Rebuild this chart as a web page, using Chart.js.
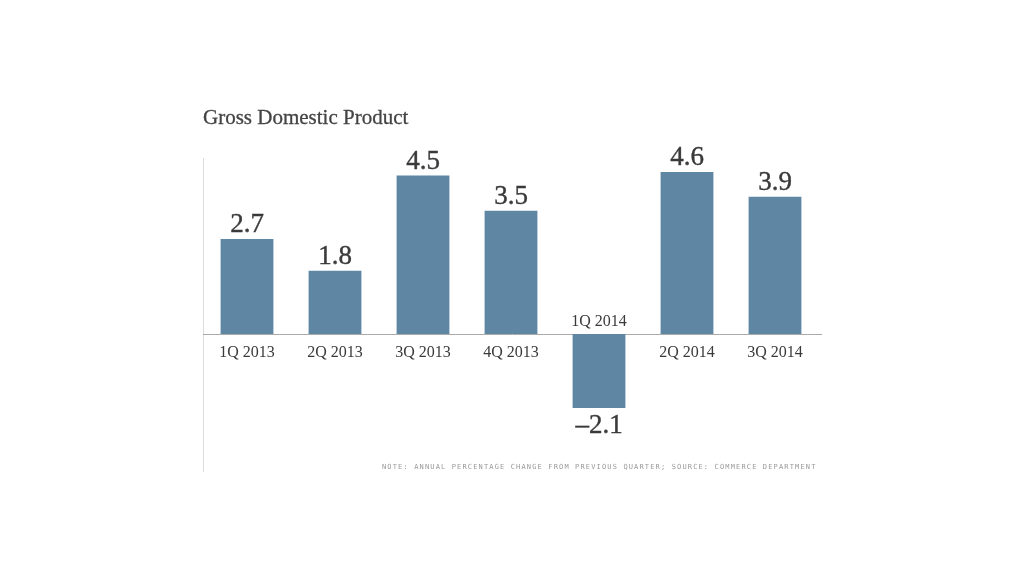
<!DOCTYPE html>
<html>
<head>
<meta charset="utf-8">
<script src="https://cdn.jsdelivr.net/npm/chart.js@4/dist/chart.umd.min.js"></script>
<style>
  html, body { margin: 0; padding: 0; background: #fff; }
  #wrap { position: relative; width: 1024px; height: 576px; }
  #title {
    position: absolute; left: 203px; top: 105px;
    font-family: "Liberation Serif", serif; font-size: 21px; color: #444;
    -webkit-text-stroke: 0.3px #444;
  }
  #note {
    position: absolute; left: 382px; top: 463px;
    font-family: "DejaVu Sans Mono", monospace; font-size: 7px; color: #999;
    letter-spacing: 1.15px;
  }
</style>
</head>
<body>
<div id="wrap">
  <canvas id="gdpChart" width="1024" height="576"></canvas>
  <div id="title">Gross Domestic Product</div>
  <div id="note">NOTE: ANNUAL PERCENTAGE CHANGE FROM PREVIOUS QUARTER; SOURCE: COMMERCE DEPARTMENT</div>
</div>
<script>
const quarters = ['1Q 2013', '2Q 2013', '3Q 2013', '4Q 2013', '1Q 2014', '2Q 2014', '3Q 2014'];
const gdpGrowth = [2.7, 1.8, 4.5, 3.5, -2.1, 4.6, 3.9];

const barColor = '#5f86a3';

// zero line, left rule, value labels and category labels
const labelPlugin = {
    id: 'labels',
    beforeDatasetsDraw(chart) {
        const { ctx, chartArea, scales } = chart;
        const y0 = Math.round(scales.y.getPixelForValue(0)) + 0.5;
        ctx.save();
        ctx.strokeStyle = '#dcdcdc';
        ctx.lineWidth = 1;
        ctx.beginPath();
        ctx.moveTo(chartArea.left + 0.5, chartArea.top);
        ctx.lineTo(chartArea.left + 0.5, chartArea.bottom);
        ctx.stroke();
        ctx.strokeStyle = '#aaaaaa';
        ctx.beginPath();
        ctx.moveTo(chartArea.left, y0);
        ctx.lineTo(chartArea.right + 3, y0);
        ctx.stroke();
        ctx.restore();
    },
    afterDatasetsDraw(chart) {
        const { ctx, scales } = chart;
        const y0 = scales.y.getPixelForValue(0);
        ctx.save();
        ctx.textAlign = 'center';
        ctx.textBaseline = 'alphabetic';
        ctx.fillStyle = '#3a3a3a';
        ctx.strokeStyle = '#3a3a3a';
        ctx.lineWidth = 0.4;
        gdpGrowth.forEach((v, i) => {
            const x = scales.x.getPixelForValue(i);
            const yv = scales.y.getPixelForValue(v);
            const valueText = v >= 0 ? v.toFixed(1) : '\u2013' + Math.abs(v).toFixed(1);
            const valueY = v >= 0 ? yv - 7 : yv + 25;
            const labelY = v >= 0 ? y0 + 23 : y0 - 8;
            ctx.font = '27px "Liberation Serif", serif';
            ctx.fillText(valueText, x, valueY);
            ctx.strokeText(valueText, x, valueY);
            ctx.font = '16px "Liberation Serif", serif';
            ctx.fillText(quarters[i], x, labelY);
        });
        ctx.restore();
    }
};

new Chart(document.getElementById('gdpChart').getContext('2d'), {
    type: 'bar',
    data: {
        labels: quarters,
        datasets: [{
            data: gdpGrowth,
            backgroundColor: barColor,
            borderWidth: 0,
            barPercentage: 0.6,
            categoryPercentage: 1.0
        }]
    },
    options: {
        responsive: false,
        animation: false,
        layout: { padding: { left: 203, right: 205, top: 158, bottom: 104 } },
        plugins: {
            legend: { display: false },
            tooltip: { enabled: false }
        },
        scales: {
            x: { display: false },
            y: { display: false, min: -3.92, max: 5 }
        }
    },
    plugins: [labelPlugin]
});
</script>
</body>
</html>
